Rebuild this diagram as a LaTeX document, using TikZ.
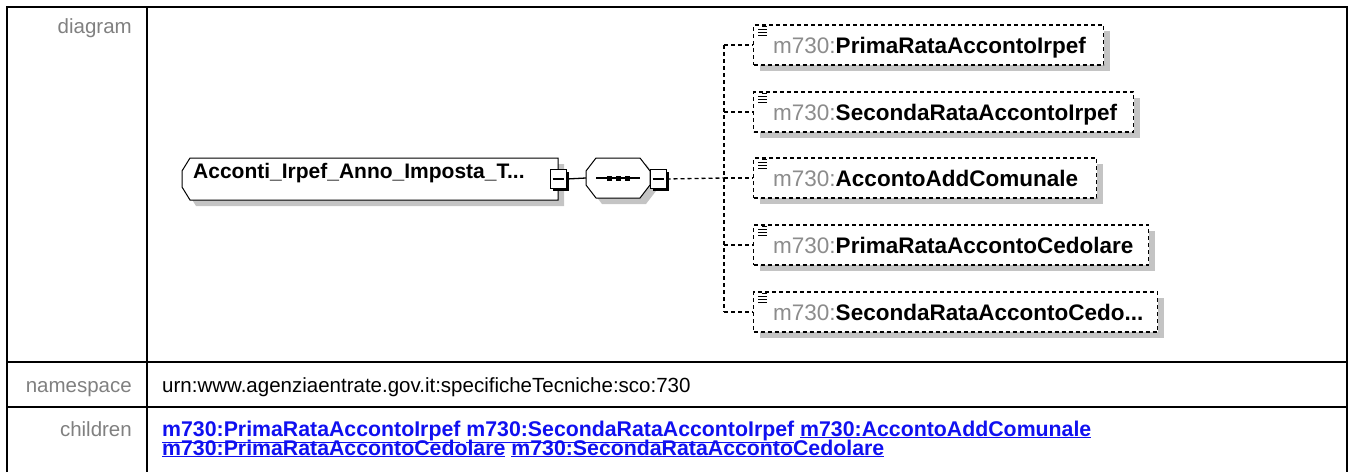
\documentclass[tikz,border=0pt]{standalone}
\usepackage{fontspec}
\setmainfont{Liberation Sans}
\usetikzlibrary{shadows}

\definecolor{labelgray}{RGB}{128,128,128}
\definecolor{prefixgray}{RGB}{140,140,140}
\definecolor{shadowgray}{RGB}{196,196,196}
\definecolor{linkblue}{RGB}{16,16,240}

\newcommand{\ellip}{...}
\newcommand{\minusbar}{\rule{11pt}{1.2pt}}

\tikzset{
    tableline/.style={line width=2pt},
    rowlabel/.style={anchor=base east, inner sep=0, text=labelgray, font=\fontsize{20.5}{24}\selectfont},
    rowvalue/.style={anchor=base west, inner sep=0, font=\fontsize{20.5}{24}\selectfont},
    linkvalue/.style={rowvalue, text=linkblue, font=\fontsize{21.3}{24}\selectfont\bfseries},
    boxshadow/.style={general shadow={fill=shadowgray, shadow xshift=6pt, shadow yshift=-6pt}},
    spot/.style={inner sep=0, outer sep=0},
    outline/.style={draw, fill=white, line width=1pt, boxshadow},
    togglebox/.style={draw, fill=white, line width=1pt, inner sep=0, minimum width=16, minimum height=19,
        general shadow={fill=black, shadow xshift=2.5pt, shadow yshift=-2.5pt}},
    elemtext/.style={anchor=base west, inner sep=0, font=\fontsize{21}{24}\selectfont\bfseries},
    childbox/.style={draw, fill=white, line width=1.3pt, dash pattern=on 4pt off 3pt, boxshadow,
        anchor=west, minimum height=40, inner sep=0},
    childtext/.style={anchor=base west, inner sep=0, font=\fontsize{22.5}{26}\selectfont\bfseries},
    iconline/.style={line width=1.2pt},
    solidlink/.style={line width=1.3pt},
    dashlink/.style={line width=1.3pt, dash pattern=on 4pt off 3pt}
}

\begin{document}
\begin{tikzpicture}[x=1pt,y=-1pt]

    \useasboundingbox (0,0) rectangle (1349,472);

    \draw[tableline] (7,472) -- (7,7) -- (1347,7) -- (1347,472);
    \draw[tableline] (147,7) -- (147,472);
    \draw[tableline] (7,362) -- (1347,362);
    \draw[tableline] (7,407) -- (1347,407);

    \node[rowlabel] (diagramlabel) at (132,33) {diagram};
    \node[rowlabel] (namespacelabel) at (132,392) {namespace};
    \node[rowlabel] (childrenlabel) at (132,436) {children};

    \node[rowvalue] (namespacevalue) at (162,392) {urn:www.agenziaentrate.gov.it:specificheTecniche:sco:730};
    \node[linkvalue] (childrenline1) at (162,436)
        {\underline{m730:PrimaRataAccontoIrpef} \underline{m730:SecondaRataAccontoIrpef} \underline{m730:AccontoAddComunale}};
    \node[linkvalue] (childrenline2) at (162,455)
        {\underline{m730:PrimaRataAccontoCedolare} \underline{m730:SecondaRataAccontoCedolare}};

    \begin{scope}
        \node[spot, minimum width=376, minimum height=42] (root) at (370,179) {};
        \draw[outline] ([xshift=8pt]root.north west) -- (root.north east) -- (root.south east)
            -- ([xshift=8pt]root.south west) -- ([yshift=13pt]root.south west)
            -- ([yshift=-13pt]root.north west) -- cycle;
        \node[elemtext] (roottext) at (193,178) {Acconti\_Irpef\_Anno\_Imposta\_T\ellip};
        \node[togglebox] (roottoggle) at (558,179) {\minusbar};

        \node[spot, minimum width=64, minimum height=40] (seq) at (618,178) {};
        \draw[outline] ([xshift=10pt]seq.north west) -- ([xshift=-10pt]seq.north east)
            -- ([yshift=-13pt]seq.north east) -- ([yshift=13pt]seq.south east)
            -- ([xshift=-10pt]seq.south east) -- ([xshift=10pt]seq.south west)
            -- ([yshift=13pt]seq.south west) -- ([yshift=-13pt]seq.north west) -- cycle;
        \draw[solidlink] ([xshift=-22pt]seq.center) -- ([xshift=22pt]seq.center);
        \foreach \dx in {-9,0,9}
            \fill ([xshift=\dx pt]seq.center) +(-2.5,-2.5) rectangle +(2.5,2.5);
        \node[togglebox] (seqtoggle) at (658,179) {\minusbar};

        \foreach \name/\w/\y/\label in {c1/350/45/PrimaRataAccontoIrpef,
                                        c2/380/112/SecondaRataAccontoIrpef,
                                        c3/343/178/AccontoAddComunale,
                                        c4/395/245/PrimaRataAccontoCedolare,
                                        c5/404/312/SecondaRataAccontoCedo\ellip} {
            \node[childbox, minimum width=\w] (\name) at (753,\y) {};
            \node[childtext] (\name text) at ([xshift=20pt,yshift=-8pt]\name.west)
                {{\mdseries\color{prefixgray}m730:}\label};
            \draw[iconline] ([xshift=9pt,yshift=-2pt]\name.north west) -- ++(5,0);
            \foreach \dy in {5,8,11}
                \draw[iconline] ([xshift=5pt,yshift=-\dy pt]\name.north west) -- ++(9,0);
        }
    \end{scope}

    \coordinate (bus) at (724,178);
    \draw[solidlink] (roottoggle.east) -- (seq.west);
    \draw[dashlink] (seqtoggle.east) -- (bus);
    \draw[dashlink] (bus |- c1.west) -- (bus |- c5.west);
    \foreach \name in {c1,c2,c3,c4,c5}
        \draw[dashlink] (bus |- \name.west) -- (\name.west);

\end{tikzpicture}
\end{document}
